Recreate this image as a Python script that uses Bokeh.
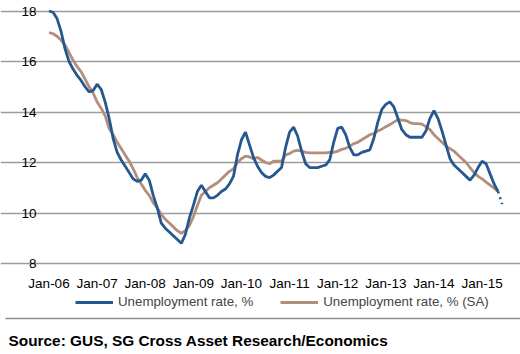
from bokeh.plotting import figure
from bokeh.models import (Range1d, FixedTicker, Legend, LegendItem, Label,
                          BoxAnnotation, ColumnDataSource)
from bokeh.embed import file_html
from bokeh.resources import INLINE

# ---------------- data (monthly, Jan-2006 .. May-2015) ----------------
unemployment = [
    18.0, 17.95, 17.7, 17.2, 16.5, 16.0, 15.7, 15.45, 15.25, 15.0, 14.8, 14.85,      # 2006
    15.1, 14.9, 14.4, 13.75, 12.95, 12.4, 12.1, 11.85, 11.6, 11.35, 11.25, 11.3,     # 2007
    11.55, 11.3, 10.7, 10.2, 9.6, 9.4, 9.25, 9.1, 8.95, 8.8, 9.15, 9.8,              # 2008
    10.3, 10.85, 11.1, 10.85, 10.6, 10.6, 10.7, 10.85, 10.95, 11.15, 11.45, 12.3,    # 2009
    12.9, 13.2, 12.7, 12.2, 11.85, 11.6, 11.45, 11.4, 11.5, 11.65, 11.8, 12.6,       # 2010
    13.2, 13.4, 13.05, 12.45, 11.95, 11.8, 11.8, 11.8, 11.85, 11.9, 12.1, 12.8,      # 2011
    13.35, 13.4, 13.1, 12.6, 12.3, 12.3, 12.4, 12.45, 12.5, 12.95, 13.6, 14.1,       # 2012
    14.3, 14.4, 14.2, 13.75, 13.3, 13.1, 13.0, 13.0, 13.0, 13.0, 13.25, 13.75,       # 2013
    14.05, 13.75, 13.25, 12.7, 12.15, 11.9, 11.75, 11.6, 11.45, 11.3, 11.5, 11.8,    # 2014
    12.05, 11.95, 11.55, 11.15, 10.85,                                               # 2015
]
unemployment_next = [10.35]   # Jun-2015 (dotted)

unemployment_sa = [
    17.15, 17.1, 17.0, 16.85, 16.65, 16.35, 16.05, 15.8, 15.6, 15.3, 15.0, 14.75,   # 2006
    14.4, 14.15, 13.85, 13.35, 13.1, 12.8, 12.55, 12.3, 12.05, 11.75, 11.4, 11.15,  # 2007
    10.9, 10.7, 10.4, 10.2, 9.95, 9.75, 9.6, 9.45, 9.3, 9.2, 9.3, 9.5,              # 2008
    9.85, 10.3, 10.7, 10.85, 11.0, 11.1, 11.2, 11.35, 11.5, 11.65, 11.75, 12.0,     # 2009
    12.15, 12.25, 12.22, 12.15, 12.2, 12.1, 12.0, 11.95, 12.05, 12.05, 12.05, 12.3, # 2010
    12.35, 12.45, 12.48, 12.45, 12.4, 12.38, 12.38, 12.38, 12.38, 12.38, 12.4, 12.4, # 2011
    12.45, 12.52, 12.56, 12.65, 12.75, 12.8, 12.9, 13.0, 13.1, 13.15, 13.25, 13.32, # 2012
    13.42, 13.5, 13.6, 13.7, 13.68, 13.66, 13.58, 13.54, 13.54, 13.52, 13.42, 13.3, # 2013
    13.1, 12.95, 12.8, 12.65, 12.55, 12.45, 12.3, 12.15, 12.0, 11.8, 11.6, 11.45,   # 2014
    11.35, 11.22, 11.1, 10.98, 10.85,                                               # 2015
]

tick_labels = ["Jan-06", "Jan-07", "Jan-08", "Jan-09", "Jan-10",
               "Jan-11", "Jan-12", "Jan-13", "Jan-14", "Jan-15"]
y_ticks = [8, 10, 12, 14, 16, 18]
series_names = ["Unemployment rate, %", "Unemployment rate, % (SA)"]
source_text = "Source: GUS, SG Cross Asset Research/Economics"

BLUE = "#24588F"
BROWN = "#B38E7C"
FONT = "Liberation Sans"

months = list(range(len(unemployment)))
tick_pos = [12 * i for i in range(len(tick_labels))]

src = ColumnDataSource(dict(m=months, u=unemployment, sa=unemployment_sa))
tail = ColumnDataSource(dict(m=[months[-1], months[-1] + 1],
                             u=[unemployment[-1]] + unemployment_next))

# ---------------- layout geometry (canvas pixels) ----------------
W, H = 520, 354
PX_PER_MONTH = 4.01          # horizontal scale
PX_PER_UNIT = 25.25          # vertical scale
X_ORIGIN_PX = 48.5           # where Jan-06 sits
Y18_PX = 10.5                # where 18 % sits

X0 = -X_ORIGIN_PX / PX_PER_MONTH
X1 = (W - X_ORIGIN_PX) / PX_PER_MONTH
Y1 = 18 + Y18_PX / PX_PER_UNIT
Y0 = 18 - (H - Y18_PX) / PX_PER_UNIT


def px_to_x(cx):
    return X0 + cx / PX_PER_MONTH


def py_to_y(cy):
    return Y1 - cy / PX_PER_UNIT


p = figure(width=W, height=H, output_backend="svg", toolbar_location=None,
           x_range=Range1d(X0, X1), y_range=Range1d(Y0, Y1), min_border=0,
           min_border_left=0, min_border_right=0, min_border_top=0,
           min_border_bottom=0)
p.outline_line_color = None
p.background_fill_color = "white"
p.border_fill_color = "white"

r_sa = p.line("m", "sa", source=src, line_color=BROWN, line_width=2.8)
r_u = p.line("m", "u", source=src, line_color=BLUE, line_width=2.8)
p.line("m", "u", source=tail, line_color=BLUE, line_width=2.6, line_dash="2 4")

p.xgrid.visible = False
p.ygrid.grid_line_color = "#9C9C9C"
p.ygrid.grid_line_width = 1.6
p.ygrid.ticker = FixedTicker(ticks=y_ticks)
p.ygrid.bounds = (px_to_x(49), px_to_x(502))

p.yaxis.ticker = FixedTicker(ticks=y_ticks)
p.xaxis.ticker = FixedTicker(ticks=tick_pos)
p.xaxis.major_label_overrides = {t: l for t, l in zip(tick_pos, tick_labels)}
for ax in (p.xaxis[0], p.yaxis[0]):
    ax.axis_line_color = None
    ax.major_tick_line_color = None
    ax.minor_tick_line_color = None
    ax.major_tick_out = 0
    ax.major_tick_in = 0
    ax.major_label_text_font = FONT
    ax.major_label_text_font_size = "13.5px"
    ax.major_label_text_color = "black"
p.yaxis.fixed_location = px_to_x(47)
p.yaxis.major_label_standoff = 11
p.xaxis.fixed_location = py_to_y(266)
p.xaxis.major_label_standoff = 9

legend = Legend(items=[LegendItem(label=series_names[0], renderers=[r_u]),
                       LegendItem(label=series_names[1], renderers=[r_sa])],
                orientation="horizontal", location=(75, H - 309),
                glyph_width=38, glyph_height=14, label_height=14,
                label_standoff=5, spacing=27, padding=0, margin=0,
                border_line_color=None, background_fill_alpha=0,
                label_text_font=FONT, label_text_font_size="13.3px")
p.add_layout(legend, "center")

# footer: separator line and source note
p.add_layout(BoxAnnotation(left=px_to_x(5), right=px_to_x(W),
                           top=py_to_y(317.3), bottom=py_to_y(318.8),
                           fill_color="#8E8E8E", fill_alpha=1, line_color=None))
p.add_layout(Label(x=px_to_x(8), y=py_to_y(340),
                   text=source_text, text_baseline="middle",
                   text_font=FONT, text_font_size="15.4px",
                   text_font_style="bold", text_color="black"))

open("out.html", "w").write(file_html(p, INLINE))
